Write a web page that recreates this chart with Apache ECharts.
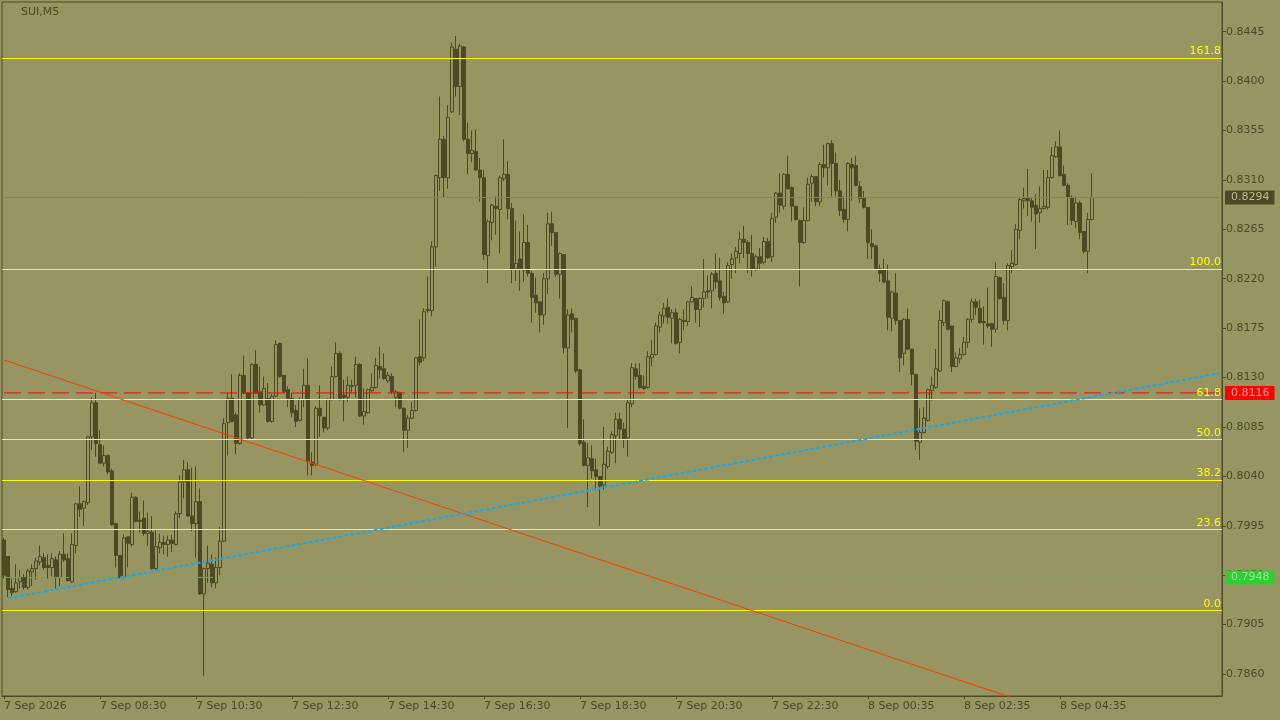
<!DOCTYPE html>
<html>
<head>
<meta charset="utf-8">
<title>SUI,M5</title>
<script src="https://cdn.jsdelivr.net/npm/echarts@6/dist/echarts.min.js"></script>
<style>
html, body { margin: 0; padding: 0; background: #979662; }
#chart { width: 1280px; height: 720px; }
</style>
</head>
<body>
<div id="chart"></div>
<script>
var symbolName = 'SUI,M5'

// M5 bars, first bar 7 Sep 06:30
var opens = [
  0.7982,0.7967,0.7938,0.7935,0.7944,0.7948,0.7939,0.7953,0.7956,0.7962,
  0.7966,0.7959,0.7957,0.7964,0.7948,0.7969,0.7965,0.7944,0.7977,0.8015,
  0.8011,0.8016,0.8076,0.8107,0.8069,0.8052,0.8059,0.8045,0.7997,0.7968,
  0.7948,0.7985,0.7978,0.8021,0.8000,0.8002,0.7988,0.7989,0.7956,0.7975,
  0.7980,0.7978,0.7982,0.7978,0.8006,0.8035,0.8046,0.8004,0.7997,0.8017,
  0.7933,0.7956,0.7960,0.7943,0.7957,0.7981,0.8089,0.8111,0.8096,0.8070,
  0.8132,0.8116,0.8075,0.8142,0.8117,0.8105,0.8111,0.8090,0.8113,0.8161,
  0.8132,0.8119,0.8111,0.8100,0.8091,0.8110,0.8123,0.8053,0.8051,0.8102,
  0.8094,0.8084,0.8110,0.8131,0.8152,0.8114,0.8112,0.8122,0.8123,0.8142,
  0.8095,0.8098,0.8118,0.8121,0.8140,0.8138,0.8127,0.8131,0.8112,0.8116,
  0.8102,0.8082,0.8093,0.8100,0.8149,0.8148,0.8192,0.8191,0.8249,0.8312,
  0.8347,0.8312,0.8372,0.8429,0.8395,0.8431,0.8347,0.8334,0.8336,0.8319,
  0.8312,0.8241,0.8271,0.8286,0.8283,0.8311,0.8315,0.8284,0.8229,0.8238,
  0.8228,0.8253,0.8225,0.8205,0.8199,0.8187,0.8220,0.8270,0.8262,0.8224,
  0.8242,0.8157,0.8188,0.8184,0.8137,0.8071,0.8050,0.8056,0.8046,0.8040,
  0.8032,0.8049,0.8062,0.8077,0.8092,0.8083,0.8075,0.8106,0.8138,0.8132,
  0.8122,0.8121,0.8148,0.8151,0.8176,0.8186,0.8194,0.8184,0.8189,0.8162,
  0.8182,0.8181,0.8199,0.8202,0.8192,0.8202,0.8209,0.8209,0.8225,0.8218,
  0.8204,0.8199,0.8233,0.8239,0.8243,0.8256,0.8253,0.8243,0.8229,0.8240,
  0.8235,0.8254,0.8240,0.8276,0.8298,0.8286,0.8315,0.8303,0.8286,0.8273,
  0.8253,0.8273,0.8307,0.8313,0.8290,0.8324,0.8321,0.8343,0.8325,0.8300,
  0.8283,0.8274,0.8324,0.8323,0.8304,0.8294,0.8285,0.8252,0.8250,0.8229,
  0.8228,0.8218,0.8184,0.8207,0.8182,0.8152,0.8183,0.8156,0.8133,0.8071,
  0.8080,0.8091,0.8118,0.8121,0.8136,0.8180,0.8199,0.8177,0.8140,0.8147,
  0.8151,0.8162,0.8183,0.8199,0.8193,0.8181,0.8179,0.8179,0.8174,0.8221,
  0.8203,0.8182,0.8231,0.8233,0.8264,0.8291,0.8293,0.8291,0.8287,0.8280,
  0.8284,0.8285,0.8312,0.8331,0.8340,0.8315,0.8305,0.8294,0.8272,0.8289,
  0.8263,0.8245,0.8274
]
var closes = [
  0.7950,0.7937,0.7934,0.7943,0.7948,0.7939,0.7954,0.7956,0.7963,0.7967,
  0.7957,0.7957,0.7965,0.7948,0.7969,0.7964,0.7945,0.7978,0.8015,0.8010,
  0.8017,0.8076,0.8107,0.8070,0.8052,0.8059,0.8044,0.7996,0.7968,0.7948,
  0.7984,0.7979,0.8021,0.7999,0.7999,0.7988,0.7990,0.7956,0.7976,0.7980,
  0.7978,0.7982,0.7979,0.8006,0.8035,0.8046,0.8004,0.7997,0.8017,0.7933,
  0.7956,0.7961,0.7943,0.7957,0.7981,0.8088,0.8111,0.8090,0.8070,0.8132,
  0.8116,0.8075,0.8142,0.8116,0.8105,0.8120,0.8090,0.8113,0.8160,0.8131,
  0.8117,0.8111,0.8098,0.8090,0.8110,0.8123,0.8054,0.8050,0.8102,0.8095,
  0.8084,0.8110,0.8131,0.8152,0.8111,0.8112,0.8123,0.8123,0.8142,0.8095,
  0.8099,0.8119,0.8121,0.8141,0.8137,0.8129,0.8132,0.8117,0.8117,0.8102,
  0.8082,0.8093,0.8100,0.8148,0.8144,0.8190,0.8191,0.8249,0.8314,0.8347,
  0.8312,0.8367,0.8431,0.8395,0.8432,0.8347,0.8334,0.8337,0.8319,0.8312,
  0.8242,0.8272,0.8287,0.8284,0.8312,0.8315,0.8284,0.8229,0.8234,0.8229,
  0.8253,0.8225,0.8203,0.8198,0.8187,0.8220,0.8270,0.8262,0.8224,0.8243,
  0.8157,0.8187,0.8183,0.8136,0.8070,0.8050,0.8057,0.8045,0.8040,0.8031,
  0.8051,0.8063,0.8078,0.8092,0.8083,0.8074,0.8107,0.8139,0.8131,0.8121,
  0.8120,0.8149,0.8151,0.8177,0.8187,0.8193,0.8185,0.8189,0.8161,0.8183,
  0.8181,0.8199,0.8203,0.8192,0.8202,0.8208,0.8208,0.8224,0.8217,0.8203,
  0.8198,0.8232,0.8238,0.8245,0.8256,0.8253,0.8243,0.8229,0.8240,0.8234,
  0.8254,0.8239,0.8275,0.8298,0.8287,0.8315,0.8302,0.8286,0.8274,0.8253,
  0.8273,0.8306,0.8313,0.8290,0.8324,0.8321,0.8343,0.8325,0.8300,0.8282,
  0.8274,0.8325,0.8321,0.8305,0.8293,0.8285,0.8253,0.8249,0.8229,0.8225,
  0.8217,0.8185,0.8208,0.8182,0.8148,0.8183,0.8156,0.8133,0.8072,0.8080,
  0.8093,0.8119,0.8123,0.8138,0.8182,0.8200,0.8174,0.8140,0.8148,0.8151,
  0.8162,0.8183,0.8199,0.8194,0.8180,0.8180,0.8177,0.8174,0.8222,0.8202,
  0.8182,0.8232,0.8234,0.8265,0.8292,0.8293,0.8291,0.8285,0.8279,0.8284,
  0.8286,0.8312,0.8332,0.8340,0.8314,0.8305,0.8294,0.8273,0.8289,0.8262,
  0.8245,0.8274,0.8294
]
var lows = [
  0.7947,0.7930,0.7931,0.7934,0.7938,0.7937,0.7937,0.7940,0.7946,0.7959,
  0.7955,0.7947,0.7949,0.7937,0.7940,0.7962,0.7944,0.7943,0.7970,0.8003,
  0.7995,0.8014,0.8064,0.8058,0.8051,0.8049,0.8042,0.7995,0.7957,0.7947,
  0.7947,0.7957,0.7976,0.7998,0.7989,0.7986,0.7977,0.7955,0.7955,0.7970,
  0.7969,0.7967,0.7971,0.7977,0.8002,0.8020,0.8003,0.7990,0.7966,0.7932,
  0.7858,0.7943,0.7939,0.7938,0.7950,0.7980,0.8059,0.8089,0.8060,0.8069,
  0.8115,0.8074,0.8074,0.8115,0.8098,0.8104,0.8089,0.8089,0.8112,0.8130,
  0.8116,0.8103,0.8094,0.8085,0.8090,0.8103,0.8041,0.8041,0.8049,0.8076,
  0.8080,0.8082,0.8109,0.8130,0.8109,0.8090,0.8108,0.8116,0.8112,0.8094,
  0.8087,0.8097,0.8117,0.8120,0.8129,0.8128,0.8125,0.8115,0.8103,0.8101,
  0.8062,0.8066,0.8092,0.8099,0.8141,0.8145,0.8189,0.8186,0.8231,0.8300,
  0.8294,0.8302,0.8371,0.8386,0.8369,0.8345,0.8315,0.8326,0.8318,0.8290,
  0.8237,0.8216,0.8255,0.8260,0.8243,0.8309,0.8274,0.8216,0.8218,0.8209,
  0.8217,0.8222,0.8180,0.8189,0.8171,0.8178,0.8206,0.8250,0.8222,0.8202,
  0.8152,0.8084,0.8171,0.8134,0.8068,0.8049,0.8012,0.8038,0.8028,0.7995,
  0.8028,0.8047,0.8060,0.8052,0.8074,0.8066,0.8058,0.8103,0.8128,0.8120,
  0.8119,0.8120,0.8140,0.8150,0.8171,0.8179,0.8179,0.8161,0.8160,0.8152,
  0.8173,0.8177,0.8198,0.8180,0.8176,0.8194,0.8202,0.8193,0.8211,0.8200,
  0.8188,0.8198,0.8220,0.8225,0.8234,0.8239,0.8225,0.8222,0.8227,0.8228,
  0.8233,0.8238,0.8235,0.8271,0.8280,0.8283,0.8301,0.8272,0.8273,0.8213,
  0.8252,0.8272,0.8290,0.8286,0.8286,0.8312,0.8305,0.8295,0.8295,0.8277,
  0.8271,0.8263,0.8291,0.8304,0.8289,0.8284,0.8238,0.8238,0.8228,0.8217,
  0.8216,0.8173,0.8172,0.8178,0.8135,0.8141,0.8155,0.8123,0.8064,0.8055,
  0.8079,0.8090,0.8109,0.8120,0.8135,0.8177,0.8173,0.8135,0.8139,0.8143,
  0.8150,0.8157,0.8180,0.8187,0.8179,0.8160,0.8175,0.8158,0.8171,0.8201,
  0.8178,0.8173,0.8225,0.8232,0.8256,0.8284,0.8277,0.8272,0.8247,0.8271,
  0.8283,0.8283,0.8311,0.8330,0.8313,0.8304,0.8269,0.8269,0.8266,0.8256,
  0.8243,0.8225,0.8273
]
var highs = [
  0.7984,0.7967,0.7947,0.7960,0.7955,0.7951,0.7956,0.7960,0.7966,0.7977,
  0.7970,0.7969,0.7970,0.7967,0.7972,0.7988,0.7970,0.7988,0.8016,0.8031,
  0.8018,0.8077,0.8112,0.8116,0.8082,0.8068,0.8060,0.8047,0.7998,0.7968,
  0.7987,0.7985,0.8025,0.8022,0.8008,0.8018,0.8007,0.8004,0.7991,0.7988,
  0.7986,0.7986,0.7987,0.8008,0.8041,0.8055,0.8053,0.8048,0.8049,0.8029,
  0.7957,0.7977,0.7969,0.7966,0.7994,0.8093,0.8116,0.8133,0.8098,0.8134,
  0.8150,0.8116,0.8143,0.8155,0.8140,0.8131,0.8125,0.8115,0.8164,0.8162,
  0.8132,0.8122,0.8116,0.8105,0.8112,0.8138,0.8148,0.8062,0.8104,0.8123,
  0.8094,0.8111,0.8140,0.8162,0.8154,0.8128,0.8131,0.8128,0.8149,0.8143,
  0.8120,0.8120,0.8134,0.8148,0.8158,0.8152,0.8135,0.8134,0.8119,0.8117,
  0.8103,0.8096,0.8108,0.8149,0.8183,0.8193,0.8222,0.8254,0.8315,0.8386,
  0.8350,0.8378,0.8435,0.8441,0.8434,0.8432,0.8362,0.8355,0.8356,0.8330,
  0.8319,0.8274,0.8288,0.8295,0.8314,0.8347,0.8327,0.8289,0.8273,0.8263,
  0.8279,0.8269,0.8227,0.8221,0.8199,0.8225,0.8280,0.8281,0.8262,0.8244,
  0.8242,0.8192,0.8193,0.8184,0.8138,0.8092,0.8070,0.8068,0.8056,0.8040,
  0.8085,0.8067,0.8081,0.8098,0.8098,0.8089,0.8110,0.8143,0.8143,0.8143,
  0.8132,0.8154,0.8164,0.8180,0.8190,0.8198,0.8202,0.8192,0.8193,0.8184,
  0.8192,0.8200,0.8213,0.8202,0.8203,0.8238,0.8223,0.8226,0.8243,0.8239,
  0.8208,0.8235,0.8243,0.8249,0.8263,0.8268,0.8255,0.8260,0.8242,0.8248,
  0.8258,0.8257,0.8280,0.8299,0.8316,0.8316,0.8332,0.8304,0.8286,0.8274,
  0.8285,0.8312,0.8315,0.8313,0.8326,0.8342,0.8344,0.8346,0.8335,0.8310,
  0.8295,0.8326,0.8330,0.8332,0.8309,0.8300,0.8285,0.8265,0.8251,0.8233,
  0.8238,0.8233,0.8209,0.8225,0.8182,0.8184,0.8193,0.8156,0.8133,0.8102,
  0.8103,0.8120,0.8131,0.8156,0.8191,0.8201,0.8200,0.8177,0.8153,0.8157,
  0.8167,0.8184,0.8202,0.8202,0.8201,0.8195,0.8212,0.8180,0.8235,0.8222,
  0.8216,0.8234,0.8246,0.8270,0.8294,0.8303,0.8320,0.8294,0.8297,0.8304,
  0.8319,0.8319,0.8340,0.8345,0.8355,0.8323,0.8307,0.8296,0.8295,0.8291,
  0.8263,0.8280,0.8316
]

var xTickLabels = ['7 Sep 2026', '7 Sep 08:30', '7 Sep 10:30', '7 Sep 12:30', '7 Sep 14:30', '7 Sep 16:30',
  '7 Sep 18:30', '7 Sep 20:30', '7 Sep 22:30', '8 Sep 00:35', '8 Sep 02:35', '8 Sep 04:35']
var yTicks = [0.7860, 0.7905, 0.7950, 0.7995, 0.8040, 0.8085, 0.8130, 0.8175, 0.8220, 0.8265, 0.8310, 0.8355, 0.8400, 0.8445]

// fibonacci retracement (0 -> 100) and its levels
var fibLow = 0.7918
var fibHigh = 0.8229
var fibLevels = [0, 23.6, 38.2, 50, 61.8, 100, 161.8]

// horizontal lines with price tags
var bidPrice = 0.8294
var redLevel = 0.8116
var greenLevel = 0.7948

// trendlines: [bar index, price]
var redTrend = [[0, 0.8146], [304, 0.7775]]
var blueTrend = [[1, 0.7929], [304, 0.8134]]

var totalSlots = 305
var bg = '#979662'
var ink = '#4b4a24'
var font = 'DejaVu Sans'

function pad(n) {
    return n.toString().padStart(2, '0')
}

// 5 minute bars, one bar missing at 8 Sep 00:00
var categories = []
var startTime = Date.UTC(2026, 8, 7, 6, 30)
for (var i = 0; i < totalSlots; i++) {
    var d = new Date(startTime + (i + (i >= 210 ? 1 : 0)) * 300000)
    categories.push(d.getUTCDate() + ' Sep ' + pad(d.getUTCHours()) + ':' + pad(d.getUTCMinutes()))
}

var candles = []
for (var k = 0; k < opens.length; k++) {
    candles.push([opens[k], closes[k], lows[k], highs[k]])
}

var fibLines = fibLevels.map(function (lvl) {
    return {
        yAxis: fibLow + (fibHigh - fibLow) * lvl / 100,
        label: { formatter: lvl.toFixed(1) }
    }
})

// horizontal level: a plain line across all slots, price tag from a see-through markLine
function levelSeries(value, lineColor, lineType, boxColor, textColor, z) {
    return {
        type: 'line',
        data: [[0, value], [totalSlots - 1, value]],
        symbol: 'none',
        z: z,
        lineStyle: { color: lineColor, width: 1, type: lineType },
        markLine: {
            symbol: ['none', 'none'],
            silent: true,
            animation: false,
            precision: 6,
            lineStyle: { color: 'rgba(0,0,0,0)', width: 1, type: 'solid' },
            label: {
                show: true, position: 'end', distance: 3,
                formatter: value.toFixed(4), color: textColor, backgroundColor: boxColor,
                padding: [1, 5, 1, 6], fontSize: 11, lineHeight: 12, fontFamily: font
            },
            data: [{ yAxis: value }]
        }
    }
}

var chart = echarts.init(document.getElementById('chart'))

var option = {
    animation: false,
    backgroundColor: bg,
    title: {
        text: symbolName, left: 16, top: 2,
        textStyle: { color: ink, fontSize: 11, fontWeight: 'normal', fontFamily: font }
    },
    grid: { left: 2, top: 2, right: 58, bottom: 24, show: true, borderColor: ink, borderWidth: 1, backgroundColor: bg },
    xAxis: {
        type: 'category',
        data: categories,
        boundaryGap: true,
        axisLine: { show: true, lineStyle: { color: ink } },
        axisTick: {
            show: true, length: 3, alignWithLabel: true, lineStyle: { color: ink },
            interval: function (idx) { return idx % 24 === 0 && idx / 24 < xTickLabels.length }
        },
        axisLabel: {
            interval: function (idx) { return idx % 24 === 0 && idx / 24 < xTickLabels.length },
            formatter: function (v, idx) { return xTickLabels[idx / 24] },
            align: 'left', margin: 5, color: ink, fontSize: 11, fontFamily: font
        },
        splitLine: { show: false }
    },
    yAxis: {
        type: 'value',
        position: 'right',
        min: 0.7840,
        max: 0.8472,
        axisLine: { show: true, lineStyle: { color: ink } },
        axisTick: { show: true, length: 4, customValues: yTicks, lineStyle: { color: ink } },
        axisLabel: {
            customValues: yTicks, margin: 4, color: ink, fontSize: 11, fontFamily: font,
            formatter: function (v) { return v.toFixed(4) }
        },
        splitLine: { show: false }
    },
    series: [
        {
            name: symbolName,
            type: 'candlestick',
            data: candles,
            barWidth: 3,
            z: 2,
            itemStyle: {
                color: bg, color0: ink,
                borderColor: ink, borderColor0: ink, borderColorDoji: ink,
                borderWidth: 1
            }
        },
        levelSeries(bidPrice, '#86865a', 'solid', ink, '#bdbd92', 3),
        levelSeries(greenLevel, '#32cd32', [17, 7], '#32cd32', '#98e898', 3),
        levelSeries(redLevel, '#ff0000', [17, 7], '#ff0000', '#ffa0a0', 3),
        {
            type: 'line',
            data: [],
            z: 4,
            markLine: {
                symbol: ['none', 'none'],
                silent: true,
                animation: false,
                precision: 6,
                lineStyle: { color: '#ffff00', width: 1, type: 'solid' },
                label: {
                    show: true, position: 'insideEndTop', distance: [1, 1],
                    color: '#ffff00', fontSize: 11, fontFamily: font
                },
                data: fibLines
            }
        },
        {
            type: 'line',
            data: redTrend,
            symbol: 'none',
            z: 5,
            lineStyle: { color: '#ff3c00', width: 1 }
        },
        {
            type: 'line',
            data: blueTrend,
            symbol: 'none',
            z: 6,
            lineStyle: { color: '#1aa8e6', width: 2, type: [4, 2] }
        }
    ]
}

chart.setOption(option)
</script>
</body>
</html>
